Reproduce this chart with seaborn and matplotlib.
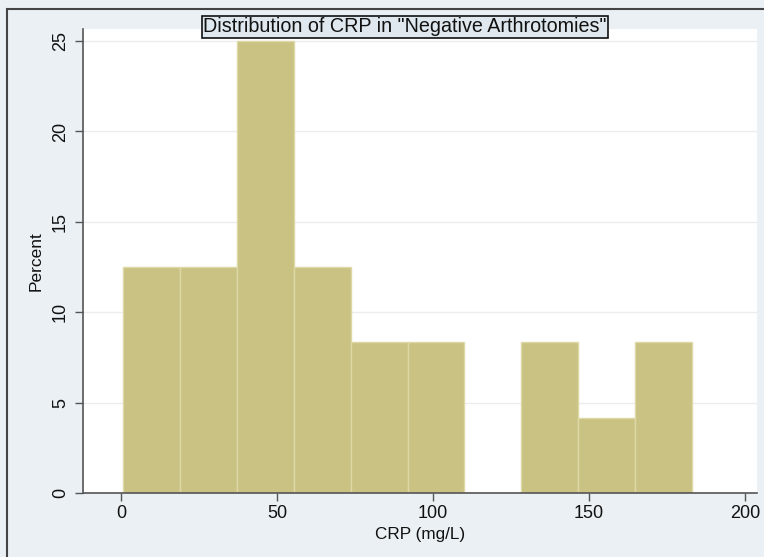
import matplotlib
matplotlib.use("Agg")
import matplotlib.pyplot as plt
import seaborn as sns
import numpy as np
from matplotlib.patches import Rectangle

# Histogram of CRP values: bin edges (mg/L) and percent of cases per bin
bin_edges = [0.6, 18.84, 37.08, 55.32, 73.56, 91.8, 110.04, 128.28, 146.52, 164.76, 183.0]
percents = [12.5, 12.5, 25.0, 12.5, 8.333, 8.333, 0.0, 8.333, 4.167, 8.333]
x_ticks = [0, 50, 100, 150, 200]
y_ticks = [0, 5, 10, 15, 20, 25]

title_text = 'Distribution of CRP in "Negative Arthrotomies"'
x_label = "CRP (mg/L)"
y_label = "Percent"

sns.set_theme(style="white")
plt.rcParams["font.family"] = ["Liberation Sans", "DejaVu Sans"]

bg = "#eaf0f4"
bar_color = "#c9c282"

fig = plt.figure(figsize=(7.64, 5.57), dpi=100, facecolor=bg)
ax = fig.add_axes([83 / 764, 1 - 493 / 557, (757 - 83) / 764, (493 - 29) / 557])
ax.set_facecolor("white")

centers = [(bin_edges[i] + bin_edges[i + 1]) / 2 for i in range(len(percents))]
sns.histplot(x=centers, weights=percents, bins=bin_edges, stat="count",
             color=bar_color, alpha=1.0, edgecolor="#ded7a6", linewidth=1.0, ax=ax)

ax.set_xlim(-12.2, 203.8)
ax.set_ylim(0, 25.67)
ax.set_xticks(x_ticks)
ax.set_yticks(y_ticks)
ax.set_yticklabels([str(t) for t in y_ticks], rotation=90, va="center")
ax.tick_params(axis="both", direction="out", length=6, width=1.0, color="#555555",
               labelsize=13, labelcolor="#111111", pad=4)
ax.tick_params(axis="x", pad=3)
ax.tick_params(left=True, bottom=True)

ax.yaxis.grid(True, color="#ececec", linewidth=1.0)
ax.set_axisbelow(True)
for side in ["top", "right"]:
    ax.spines[side].set_visible(False)
for side in ["left", "bottom"]:
    ax.spines[side].set_color("#555555")
    ax.spines[side].set_linewidth(1.2)

ax.set_xlabel(x_label, fontsize=12.3, color="#111111", labelpad=3)
ax.set_ylabel(y_label, fontsize=12.5, color="#111111", labelpad=6)

fig.text(405 / 764, 1 - 27 / 557, title_text, ha="center", va="center",
         fontsize=14.2, color="#111111",
         bbox=dict(boxstyle="square,pad=0.06", facecolor="#dfe8ee",
                   edgecolor="#111111", linewidth=1.2))

# outer frame of the graph region (open on the right and bottom edges)
fig.patches.append(Rectangle((7 / 764, -0.1), 1.2, 1.1 - 9 / 557, transform=fig.transFigure,
                             fill=False, edgecolor="#444444", linewidth=1.5))

fig.savefig("out.png", dpi=100, facecolor=bg)
